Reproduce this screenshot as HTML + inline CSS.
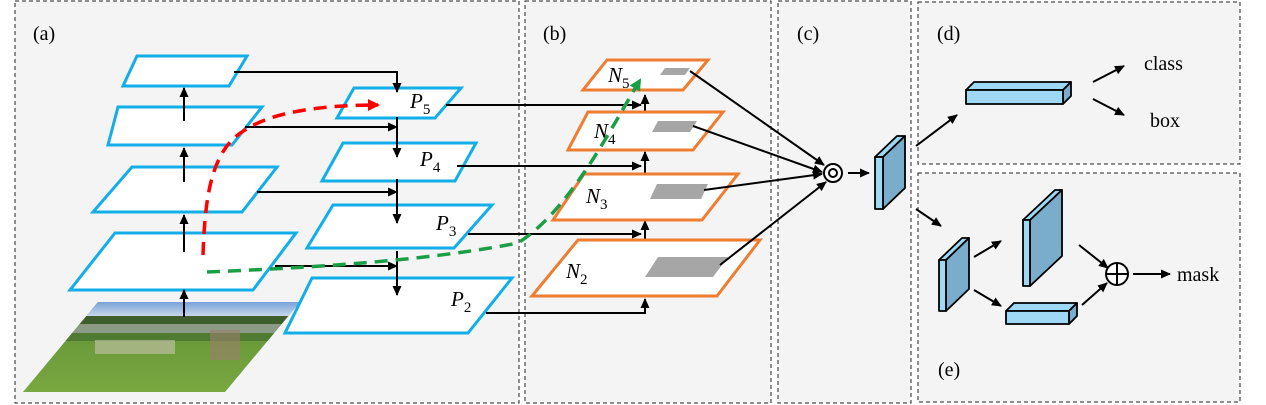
<!DOCTYPE html>
<html><head><meta charset="utf-8"><style>
body{margin:0;background:#fff}
svg{display:block}
text{font-family:"Liberation Serif",serif;fill:#000}
</style></head><body>
<svg width="1266" height="405" viewBox="0 0 1266 405" xmlns="http://www.w3.org/2000/svg">
<defs>
<marker id="ah" markerWidth="12" markerHeight="12" refX="9" refY="6" orient="auto" markerUnits="userSpaceOnUse"><path d="M0,1.5 L10,6 L0,10.5 z" fill="#000"/></marker>
<marker id="ahr" markerWidth="14" markerHeight="14" refX="10" refY="7" orient="auto" markerUnits="userSpaceOnUse"><path d="M0,1 L12,7 L0,13 z" fill="#f00"/></marker>
<marker id="ahg" markerWidth="14" markerHeight="14" refX="10" refY="7" orient="auto" markerUnits="userSpaceOnUse"><path d="M0,1 L12,7 L0,13 z" fill="#1a9e45"/></marker>
<clipPath id="ph"><polygon points="98,302 300,302 225,392 23,392"/></clipPath>
<linearGradient id="sky" x1="0" y1="0" x2="0" y2="1"><stop offset="0" stop-color="#6d9ad8"/><stop offset="1" stop-color="#dfe6ee"/></linearGradient>
<linearGradient id="grass" x1="0" y1="0" x2="0" y2="1"><stop offset="0" stop-color="#5f8f35"/><stop offset="1" stop-color="#7aa840"/></linearGradient>
</defs>
<g fill="#f4f4f4" stroke="#222" stroke-width="1" stroke-dasharray="4,3">
<rect x="15" y="1" width="504" height="402"/>
<rect x="525" y="1" width="246" height="402"/>
<rect x="778" y="1" width="133" height="402"/>
<rect x="918" y="2" width="322" height="162"/>
<rect x="918" y="173" width="322" height="229"/>
</g>
<text x="33" y="40" font-size="20">(a)</text>
<text x="543" y="40" font-size="20">(b)</text>
<text x="797" y="40" font-size="20">(c)</text>
<text x="937" y="40" font-size="20">(d)</text>
<text x="938" y="376" font-size="20">(e)</text>
<!-- photo -->
<g clip-path="url(#ph)">
<rect x="20" y="300" width="285" height="95" fill="url(#grass)"/>
<rect x="20" y="300" width="285" height="20" fill="url(#sky)"/>
<rect x="20" y="316" width="285" height="10" fill="#3f5e2c"/>
<rect x="20" y="324" width="285" height="9" fill="#8c9a86"/>
<rect x="20" y="333" width="285" height="8" fill="#4e7a32"/>
<rect x="95" y="340" width="80" height="14" fill="#c8c4b0" opacity="0.6"/>
<rect x="210" y="330" width="30" height="30" fill="#9a7f6a" opacity="0.6"/>
</g>
<!-- left stack -->
<g fill="#fff" stroke="#12aee8" stroke-width="3">
<polygon points="137,56 247,56 229,86 123,86"/>
<polygon points="118,107 262,107 232,145 108,145"/>
<polygon points="132,167 277,167 242,212 93,212"/>
<polygon points="115,233 296,233 253,290 70,290"/>
<polygon points="354,88 461,88 435,118 337,118"/>
<polygon points="343,143 476,143 455,181 322,181"/>
<polygon points="333,205 492,205 454,248 307,248"/>
<polygon points="312,278 512,278 468,333 285,333"/>
</g>
<g stroke="#000" stroke-width="2" fill="none" marker-end="url(#ah)">
<path d="M184,317 V290"/><path d="M184,252 V215"/><path d="M184,182 V148"/><path d="M184,121 V88"/>
<path d="M234,72 H397 V92"/>
<path d="M245,127 H397"/><path d="M257,192 H397"/><path d="M275,266 H397"/>
<path d="M397,117 V157"/><path d="M397,179 V223"/><path d="M397,251 V295"/>
<path d="M446,105 H641"/><path d="M457,166 H641"/><path d="M468,234 H641"/>
<path d="M486,313 H645 V299"/>
<path d="M645,126 V95"/><path d="M645,188 V152"/><path d="M645,260 V221"/>
</g>
<g font-family="Liberation Serif,serif" font-style="italic" font-size="21">
<text x="410" y="108">P<tspan font-size="15" font-style="normal" dy="6">5</tspan></text>
<text x="420" y="166">P<tspan font-size="15" font-style="normal" dy="6">4</tspan></text>
<text x="436" y="230">P<tspan font-size="15" font-style="normal" dy="6">3</tspan></text>
<text x="451" y="306">P<tspan font-size="15" font-style="normal" dy="6">2</tspan></text>
</g>
<!-- N stack -->
<g fill="#fff" stroke="#ee7d31" stroke-width="3">
<polygon points="607,60 708,60 683,90 583,90"/>
<polygon points="588,112 723,112 693,150 568,150"/>
<polygon points="584,174 738,174 702,220 553,220"/>
<polygon points="578,240 760,240 717,296 532,296"/>
</g>
<g fill="#a6a6a6">
<polygon points="665,68 690,68 685,75 660,75"/>
<polygon points="658,121 697,121 690,132 652,132"/>
<polygon points="657,184 708,184 701,199 650,199"/>
<polygon points="658,257 728,257 713,277 645,277"/>
</g>
<g font-family="Liberation Serif,serif" font-style="italic" font-size="21">
<text x="608" y="82">N<tspan font-size="15" font-style="normal" dy="6">5</tspan></text>
<text x="594" y="138">N<tspan font-size="15" font-style="normal" dy="6">4</tspan></text>
<text x="586" y="203">N<tspan font-size="15" font-style="normal" dy="6">3</tspan></text>
<text x="566" y="278">N<tspan font-size="15" font-style="normal" dy="6">2</tspan></text>
</g>
<!-- dashed paths -->
<path d="M203,255 C205,200 210,150 245,130 C275,110 330,105 378,105" fill="none" stroke="#f00" stroke-width="3.5" stroke-dasharray="13,8" marker-end="url(#ahr)"/>
<path d="M207,272 C300,268 420,262 518,243 C570,210 610,130 640,80" fill="none" stroke="#1a9e45" stroke-width="3.5" stroke-dasharray="13,8" marker-end="url(#ahg)"/>
<!-- to circle -->
<g stroke="#000" stroke-width="2" fill="none" marker-end="url(#ah)">
<path d="M690,71 L824,165"/><path d="M693,126 L822,172"/><path d="M704,190 L822,174"/><path d="M720,265 L826,182"/>
<path d="M848,173 H869"/>
<path d="M916,146 L957,115"/>
<path d="M1093,82 L1124,66"/><path d="M1093,99 L1124,115"/>
<path d="M916,209 L941,226"/>
<path d="M974,257 L1001,241"/><path d="M974,290 L1001,306"/>
<path d="M1079,245 L1108,268"/><path d="M1082,305 L1107,283"/>
<path d="M1133,274 H1170"/>
</g>
<circle cx="833" cy="173" r="9" fill="#fff" stroke="#000" stroke-width="2"/>
<circle cx="833" cy="173" r="4" fill="none" stroke="#000" stroke-width="2"/>
<!-- slabs -->
<g stroke="#000" stroke-width="1.8" stroke-linejoin="round">
<polygon points="875,157 897,136 905,136 883,157" fill="#9fd8f5"/>
<polygon points="883,157 905,136 905,188 883,209" fill="#7aaccc"/>
<rect x="875" y="157" width="8" height="52" fill="#9fd8f5"/>
<polygon points="966,90 974,82 1071,82 1063,90" fill="#9fd8f5"/>
<polygon points="1063,90 1071,82 1071,96 1063,104" fill="#7aaccc"/>
<rect x="966" y="90" width="97" height="14" fill="#9fd8f5"/>
<polygon points="939,260 962,238 969,238 946,260" fill="#9fd8f5"/>
<polygon points="946,260 969,238 969,289 946,311" fill="#7aaccc"/>
<rect x="939" y="260" width="7" height="51" fill="#9fd8f5"/>
<polygon points="1023,220 1055,190 1062,190 1030,220" fill="#9fd8f5"/>
<polygon points="1030,220 1062,190 1062,256 1030,286" fill="#7aaccc"/>
<rect x="1023" y="220" width="7" height="66" fill="#9fd8f5"/>
<polygon points="1006,311 1014,303 1077,303 1069,311" fill="#9fd8f5"/>
<polygon points="1069,311 1077,303 1077,316 1069,324" fill="#7aaccc"/>
<rect x="1006" y="311" width="63" height="13" fill="#9fd8f5"/>
</g>
<circle cx="1117" cy="274" r="11" fill="#fff" stroke="#000" stroke-width="2"/>
<path d="M1106,274 H1128 M1117,263 V285" stroke="#000" stroke-width="2"/>
<text x="1144" y="70" font-size="20">class</text>
<text x="1150" y="127" font-size="20">box</text>
<text x="1177" y="281" font-size="20">mask</text>
</svg>
</body></html>
